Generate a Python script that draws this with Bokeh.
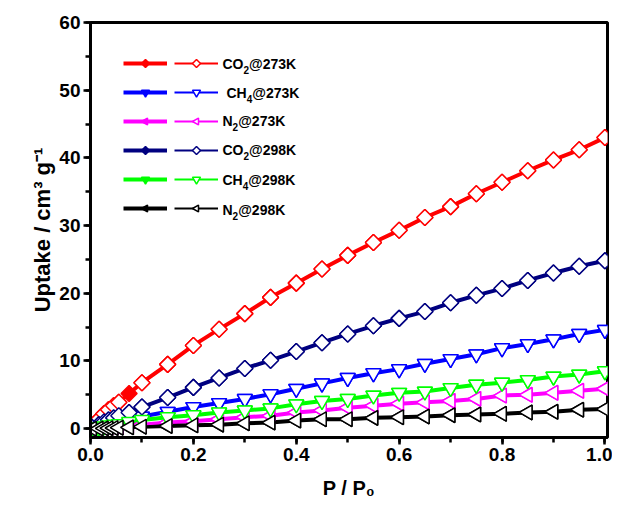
import numpy as np
from bokeh.plotting import figure
from bokeh.models import (Range1d, SingleIntervalTicker, NumeralTickFormatter, ColumnDataSource,
                          CDSView, IndexFilter, Legend, LegendItem, Label)
from bokeh.embed import file_html
from bokeh.resources import INLINE

# ---- data ----
pressure = [0.003, 0.016, 0.026, 0.035, 0.045, 0.055, 0.075, 0.10, 0.15, 0.20, 0.25, 0.30, 0.35,
            0.40, 0.45, 0.50, 0.55, 0.60, 0.65, 0.70, 0.75, 0.80, 0.85, 0.90, 0.95, 1.00]
co2_273 = [0.5, 1.4, 2.2, 2.8, 3.4, 3.9, 5.2, 6.8, 9.5, 12.3, 14.7, 17.0, 19.4,
           21.5, 23.6, 25.6, 27.5, 29.3, 31.2, 32.8, 34.7, 36.4, 38.1, 39.7, 41.2, 43.0]
ch4_273 = [0.1, 0.3, 0.5, 0.7, 0.8, 1.0, 1.4, 1.8, 2.5, 3.2, 3.8, 4.4, 5.1,
           5.9, 6.7, 7.5, 8.2, 8.8, 9.6, 10.3, 11.0, 11.9, 12.5, 13.2, 14.0, 14.6]
n2_273 = [0.0, 0.1, 0.15, 0.2, 0.25, 0.3, 0.4, 0.6, 0.9, 1.1, 1.4, 1.7, 1.9,
          2.4, 2.7, 3.1, 3.4, 3.7, 3.9, 4.1, 4.4, 4.9, 5.0, 5.3, 5.6, 5.9]
co2_298 = [0.2, 0.6, 1.0, 1.3, 1.6, 1.9, 2.4, 3.2, 4.6, 6.1, 7.5, 8.9, 10.1,
           11.4, 12.7, 14.0, 15.2, 16.3, 17.3, 18.6, 19.7, 20.7, 21.9, 23.0, 24.0, 24.8]
ch4_298 = [0.1, 0.2, 0.35, 0.5, 0.6, 0.7, 1.0, 1.3, 1.7, 2.0, 2.4, 2.7, 3.0,
           3.6, 4.1, 4.4, 4.9, 5.3, 5.5, 6.0, 6.5, 6.8, 7.2, 7.7, 8.0, 8.5]
n2_298 = [0.0, 0.02, 0.05, 0.08, 0.1, 0.15, 0.2, 0.3, 0.4, 0.5, 0.6, 0.8, 0.9,
          1.2, 1.4, 1.4, 1.6, 1.7, 1.8, 2.0, 2.1, 2.2, 2.4, 2.5, 2.8, 2.9]

# label pieces: (main, subscript, rest)
label_parts = [("CO", "2", "@273K"), ("CH", "4", "@273K"), ("N", "2", "@273K"),
               ("CO", "2", "@298K"), ("CH", "4", "@298K"), ("N", "2", "@298K")]
label_indent = [0, 4, 0, 0, 0, 0]
values = [co2_273, ch4_273, n2_273, co2_298, ch4_298, n2_298]
colors = ["#ff0000", "#0000ff", "#ff00ff", "#000080", "#00ff00", "#000000"]
shapes = ["diamond", "down", "left", "diamond", "down", "left"]

p = figure(width=612, height=502, output_backend="svg", toolbar_location=None,
           x_range=Range1d(0, 1.005), y_range=Range1d(-1.3, 60),
           min_border_left=90, min_border_right=5, min_border_top=22, min_border_bottom=65)
p.xgrid.visible = False
p.ygrid.visible = False
p.outline_line_color = "black"
p.outline_line_width = 3
p.outline_line_alpha = 1

p.xaxis.ticker = SingleIntervalTicker(interval=0.2, num_minor_ticks=2)
p.yaxis.ticker = SingleIntervalTicker(interval=10, num_minor_ticks=2)
p.xaxis.formatter = NumeralTickFormatter(format="0.0")
p.yaxis.formatter = NumeralTickFormatter(format="0")
for ax in (p.xaxis, p.yaxis):
    ax.axis_line_width = 3
    ax.major_tick_line_width = 2.5
    ax.minor_tick_line_width = 2.5
    ax.major_tick_in = 0
    ax.major_tick_out = 7
    ax.minor_tick_in = 0
    ax.minor_tick_out = 5
    ax.major_label_text_font = "Liberation Sans"
    ax.major_label_text_font_style = "bold"
    ax.major_label_text_font_size = "19px"
    ax.major_label_text_color = "black"
    ax.axis_label_text_font = "Liberation Sans"
    ax.axis_label_text_font_style = "bold"
    ax.axis_label_text_font_size = "22px"
    ax.axis_label_text_color = "black"
p.yaxis.axis_label = "Uptake / cm\u00b3 g\u207b\u00b9"
p.xaxis.axis_label = "P / P\u2080"
p.xaxis.axis_label_text_font_size = "20px"
p.xaxis.axis_label_standoff = 13
p.xaxis.major_label_standoff = 3
p.yaxis.major_label_standoff = 3
p.yaxis.axis_label_standoff = 1


def add_marks(src, view, shape, col, fill):
    if shape == "diamond":
        return p.ngon("x", "y", source=src, view=view, n=4, radius=8, radius_units="screen",
                      angle=0, fill_color=fill, line_color=col, line_width=1.5)
    if shape == "left":
        return p.ngon("x", "y", source=src, view=view, n=3, radius=8.5, radius_units="screen",
                      angle=np.pi / 2, fill_color=fill, line_color=col, line_width=1.5)
    return p.scatter("x", "y", source=src, view=view, marker="inverted_triangle", size=15,
                     fill_color=fill, line_color=col, line_width=1.5)


filled_items = []
open_items = []
for vals, col, shp in zip(values, colors, shapes):
    src = ColumnDataSource(dict(x=pressure, y=vals))
    lf = p.line("x", "y", source=src, line_color=col, line_width=4)
    sf = add_marks(src, CDSView(), shp, col, col)
    filled_items.append(LegendItem(label=" ", renderers=[lf, sf]))

for parts, vals, col, shp in zip(label_parts, values, colors, shapes):
    src = ColumnDataSource(dict(x=pressure, y=vals))
    idx = list(range(len(pressure)))
    if col == "#ff0000":
        idx = [i for i in idx if pressure[i] != 0.075]
    lo = p.line("x", "y", source=src, line_color=col, line_width=2)
    so = add_marks(src, CDSView(filter=IndexFilter(idx)), shp, col, "white")
    open_items.append(LegendItem(label=" ", renderers=[lo, so]))

common = dict(glyph_width=44, glyph_height=20, label_height=20, spacing=9, padding=0, margin=0,
              background_fill_alpha=0, border_line_alpha=0, label_standoff=0, label_width=0,
              label_text_font_size="2px")
leg1 = Legend(items=filled_items, location=(33, 219), **common)
leg2 = Legend(items=open_items, location=(84, 219), **common)
p.add_layout(leg1, "center")
p.add_layout(leg2, "center")

# legend texts with real subscripts (screen units, relative to the frame)
FS = 14
width_map = {"C": 0.722, "O": 0.778, "H": 0.722, "N": 0.722}
row_y = [374, 345, 317, 288, 258, 228]
for (main, sub, rest), yy, ind in zip(label_parts, row_y, label_indent):
    x0 = 132 + ind
    w_main = sum(width_map[c] for c in main) * FS
    p.add_layout(Label(x=x0, y=yy, x_units="screen", y_units="screen", text=main,
                       text_font="Liberation Sans", text_font_style="bold",
                       text_font_size=f"{FS}px", text_baseline="middle", text_color="black"))
    p.add_layout(Label(x=x0 + w_main, y=yy - 6, x_units="screen", y_units="screen", text=sub,
                       text_font="Liberation Sans", text_font_style="bold",
                       text_font_size="10px", text_baseline="middle", text_color="black"))
    p.add_layout(Label(x=x0 + w_main + 5.6, y=yy, x_units="screen", y_units="screen", text=rest,
                       text_font="Liberation Sans", text_font_style="bold",
                       text_font_size=f"{FS}px", text_baseline="middle", text_color="black"))

open("out.html", "w").write(file_html(p, INLINE))
